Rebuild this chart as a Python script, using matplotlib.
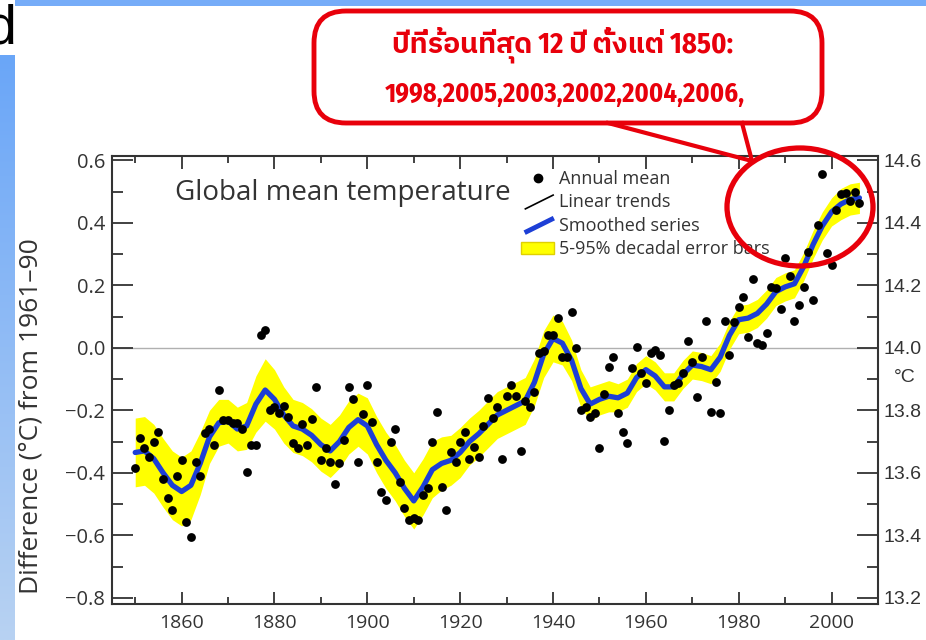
import numpy as np
import matplotlib
matplotlib.use("Agg")
import matplotlib.pyplot as plt
from matplotlib.lines import Line2D
from matplotlib.legend_handler import HandlerBase
from matplotlib.patches import Patch, FancyBboxPatch, Ellipse
from matplotlib.colors import LinearSegmentedColormap, ListedColormap

# annual means (difference from 1961-90, degC)
years = list(range(1850, 2007))
annual = [
    -0.385, -0.29, -0.32, -0.35, -0.30, -0.27, -0.42, -0.48, -0.52, -0.41,   # 1850s
    -0.36, -0.556, -0.606, -0.367, -0.41, -0.273, -0.26, -0.31, -0.134, -0.23,  # 1860s
    -0.23, -0.24, -0.24, -0.26, -0.396, -0.31, -0.31, 0.042, 0.058, -0.20,   # 1870s
    -0.19, -0.21, -0.186, -0.22, -0.305, -0.32, -0.243, -0.31, -0.227, -0.126,  # 1880s
    -0.358, -0.32, -0.364, -0.436, -0.37, -0.294, -0.126, -0.163, -0.367, -0.212,  # 1890s
    -0.118, -0.236, -0.364, -0.46, -0.486, -0.303, -0.26, -0.43, -0.513, -0.55,  # 1900s
    -0.545, -0.55, -0.47, -0.449, -0.30, -0.204, -0.444, -0.52, -0.332, -0.367,  # 1910s
    -0.303, -0.268, -0.355, -0.316, -0.348, -0.25, -0.16, -0.225, -0.19, -0.355,  # 1920s
    -0.154, -0.118, -0.155, -0.33, -0.17, -0.19, -0.14, -0.017, -0.01, 0.04,  # 1930s
    0.04, 0.095, -0.028, -0.03, 0.115, 0.0, -0.20, -0.19, -0.222, -0.21,  # 1940s
    -0.32, -0.148, -0.062, -0.03, -0.209, -0.271, -0.305, -0.066, 0.003, -0.08,  # 1950s
    -0.114, -0.017, -0.006, -0.022, -0.298, -0.198, -0.12, -0.113, -0.08, 0.023,  # 1960s
    -0.044, -0.156, -0.03, 0.087, -0.206, -0.11, -0.209, 0.087, -0.022, 0.084,  # 1970s
    0.132, 0.163, 0.036, 0.22, 0.017, 0.01, 0.049, 0.196, 0.193, 0.124,  # 1980s
    0.286, 0.229, 0.087, 0.136, 0.196, 0.308, 0.154, 0.394, 0.556, 0.302,  # 1990s
    0.264, 0.44, 0.493, 0.495, 0.47, 0.50, 0.463,  # 2000s
]

# smoothed series and its 5-95% band half width, read every 2 years
smooth_years = list(range(1850, 2007, 2))
smooth = [
    -0.335, -0.33, -0.355, -0.40, -0.44, -0.46, -0.44, -0.37, -0.285, -0.24,
    -0.235, -0.26, -0.25, -0.18, -0.135, -0.165, -0.215, -0.25, -0.26, -0.28,
    -0.31, -0.33, -0.30, -0.255, -0.23, -0.25, -0.31, -0.36, -0.40, -0.45,
    -0.49, -0.445, -0.39, -0.37, -0.36, -0.335, -0.30, -0.275, -0.245, -0.215,
    -0.20, -0.185, -0.17, -0.11, -0.02, 0.03, 0.015, -0.04, -0.13, -0.18,
    -0.165, -0.155, -0.16, -0.145, -0.095, -0.07, -0.09, -0.125, -0.125, -0.085,
    -0.055, -0.06, -0.07, -0.03, 0.04, 0.09, 0.095, 0.11, 0.14, 0.18,
    0.195, 0.205, 0.26, 0.33, 0.39, 0.435, 0.46, 0.475, 0.48,
]
band = [
    0.11, 0.11, 0.11, 0.11, 0.11, 0.11, 0.11, 0.10, 0.085, 0.075,
    0.07, 0.07, 0.075, 0.09, 0.10, 0.095, 0.09, 0.085, 0.085, 0.085,
    0.085, 0.085, 0.085, 0.085, 0.085, 0.09, 0.09, 0.09, 0.09, 0.09,
    0.09, 0.09, 0.09, 0.085, 0.08, 0.08, 0.075, 0.075, 0.075, 0.075,
    0.075, 0.075, 0.075, 0.075, 0.075, 0.075, 0.07, 0.065, 0.06, 0.055,
    0.05, 0.05, 0.045, 0.045, 0.045, 0.045, 0.045, 0.045, 0.045, 0.045,
    0.045, 0.045, 0.045, 0.045, 0.045, 0.045, 0.045, 0.045, 0.045, 0.045,
    0.045, 0.045, 0.045, 0.045, 0.045, 0.045, 0.05, 0.05, 0.05,
]

y_ticks = [-0.8, -0.6, -0.4, -0.2, 0.0, 0.2, 0.4, 0.6]
y_ticklabels = ['\u22120.8', '\u22120.6', '\u22120.4', '\u22120.2', '0.0', '0.2', '0.4', '0.6']
abs_ticks = [13.2, 13.4, 13.6, 13.8, 14.0, 14.2, 14.4, 14.6]
x_ticks = [1860, 1880, 1900, 1920, 1940, 1960, 1980, 2000]

legend_labels = ['Annual mean', 'Linear trends', 'Smoothed series', '5-95% decadal error bars']
callout_line1 = "ปีที่ร้อนที่สุด 12 ปี ตั้งแต่ 1850:"
callout_line2 = "1998,2005,2003,2002,2004,2006,"

ink = '#333333'
blue = '#1d3fd6'
yellow = '#ffff00'
red = '#e8000b'


# legend handle drawn as a short slanted stroke, like the original key
class SlantHandler(HandlerBase):
    def create_artists(self, legend, orig_handle, xdescent, ydescent, width, height, fontsize, trans):
        w = width * 0.9
        line = Line2D([width - w, width], [-0.15 * height, 1.0 * height],
                      color=orig_handle.get_color(), lw=orig_handle.get_linewidth(),
                      solid_capstyle='butt')
        line.set_transform(trans)
        return [line]


plt.rcParams['font.family'] = ['Open Sans', 'DejaVu Sans']

fig = plt.figure(figsize=(9.26, 6.4), dpi=100)

# slide background: blue strips on the left and on top
bg = fig.add_axes([0, 0, 1, 1], zorder=-5)
bg.set_xlim(0, 926)
bg.set_ylim(640, 0)
bg.axis('off')
grad = np.linspace(0, 1, 256).reshape(-1, 1)
bg.imshow(grad, extent=[0, 15, 640, 55], aspect='auto',
          cmap=LinearSegmentedColormap.from_list('slide', ['#6aa6f8', '#b8d2f2']))
bg.imshow(np.zeros((1, 2)), extent=[15, 926, 6, 0], aspect='auto', cmap=ListedColormap(['#76acf8']))
bg.text(17, 4, "d", ha='right', va='top', fontsize=40, family='Liberation Sans', color='black')

ax = fig.add_axes([112 / 926, 1 - 604 / 640, 766 / 926, 448 / 640])

ax.fill_between(smooth_years, np.array(smooth) - np.array(band), np.array(smooth) + np.array(band),
                color=yellow, lw=0, zorder=1)
ax.axhline(0, color='#b0b0b0', lw=1, zorder=0)
ax.plot(smooth_years, smooth, color=blue, lw=3.8, solid_capstyle='round', zorder=3)
ax.scatter(years, annual, s=40, color='black', zorder=4, linewidths=0)

ax.set_xlim(1845, 2010)
ax.set_ylim(-0.82, 0.614)
ax.set_xticks(x_ticks)
ax.set_xticks(range(1850, 2011, 10), minor=True)
ax.set_yticks(y_ticks)
ax.set_yticklabels(y_ticklabels)
ax.set_yticks(np.arange(-0.8, 0.61, 0.1), minor=True)
ax.tick_params(axis='x', which='major', direction='in', length=9, width=1.3, top=True,
               labelsize=14, pad=7, colors=ink)
ax.tick_params(axis='x', which='minor', direction='in', length=5, width=1.3, top=True, colors=ink)
ax.tick_params(axis='y', which='major', direction='in', length=15, width=1.3, labelsize=14.5, pad=5,
               colors=ink)
ax.tick_params(axis='y', which='minor', direction='in', length=8, width=1.3, colors=ink)
for s in ax.spines.values():
    s.set_color(ink)
    s.set_linewidth(1.5)
ax.set_ylabel('Difference (\u00b0C) from 1961\u201390', fontsize=19, color=ink)
ax.yaxis.set_label_coords(-0.09, 0.42)

ax2 = ax.twinx()
ax2.set_ylim(-0.82 + 14.0, 0.614 + 14.0)
ax2.set_yticks(abs_ticks)
ax2.set_yticks(np.arange(13.2, 14.61, 0.1), minor=True)
ax2.tick_params(axis='y', which='major', direction='in', length=15, width=1.3, labelsize=14, pad=4,
                colors=ink, labelfontfamily='Liberation Sans')
ax2.tick_params(axis='y', which='minor', direction='in', length=8, width=1.3, colors=ink)
for s in ax2.spines.values():
    s.set_visible(False)
fig.text(905 / 926, 1 - 378 / 640, '\u00b0C', ha='center', va='center', fontsize=14,
         family='Liberation Sans', color=ink)

ax.text(0.082, 0.917, 'Global mean temperature', transform=ax.transAxes, fontsize=20,
        color=ink, va='center', ha='left')

trend_key = Line2D([], [], color='black', lw=1.2)
smooth_key = Line2D([], [], color=blue, lw=3.5)
handles = [
    Line2D([], [], marker='o', color='black', ls='none', markersize=6),
    trend_key,
    smooth_key,
    Patch(facecolor=yellow, edgecolor='#e0d000'),
]
ax.legend(handles, legend_labels, loc='upper left', bbox_to_anchor=(0.525, 0.985), frameon=False,
          fontsize=13, handlelength=1.8, handletextpad=0.3, labelspacing=0.3, borderaxespad=0,
          labelcolor=ink, handler_map={trend_key: SlantHandler(), smooth_key: SlantHandler()})

# callout bubble and red circle, drawn in pixel coordinates on top
ov = fig.add_axes([0, 0, 1, 1], zorder=10)
ov.set_xlim(0, 926)
ov.set_ylim(640, 0)
ov.axis('off')
ov.patch.set_alpha(0)
ov.add_patch(FancyBboxPatch((314, 11), 508, 112, boxstyle='round,pad=0,rounding_size=32',
                            fill=False, ec=red, lw=3.5))
ov.plot([608, 752, 742], [123, 161, 123], color=red, lw=3)
ov.add_patch(Ellipse((800, 207), 146, 118, fill=False, ec=red, lw=3.8))
ov.text(563, 45, callout_line1, ha='center', va='center', fontsize=20.5, fontweight='bold',
        color=red, family=['Fira Sans Condensed', 'IBM Plex Sans Thai'])
ov.text(565, 94, callout_line2, ha='center', va='center', fontsize=19, fontweight='bold',
        color=red, family='Fira Sans Condensed')

fig.savefig('out.png', dpi=100)
